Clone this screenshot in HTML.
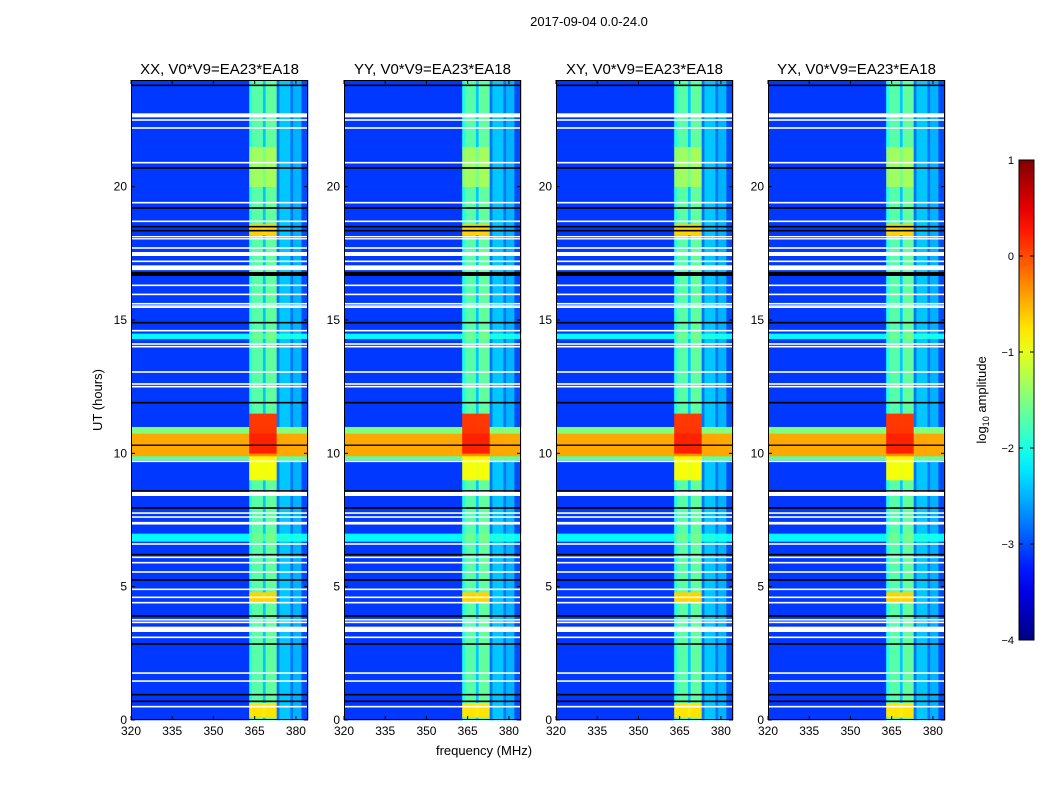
<!DOCTYPE html>
<html><head><meta charset="utf-8"><style>
body{margin:0;background:#fff;width:1050px;height:800px;overflow:hidden;font-family:"Liberation Sans",sans-serif}
svg text{font-family:"Liberation Sans",sans-serif}
</style></head><body>
<svg id="chart" width="1050" height="800" xmlns="http://www.w3.org/2000/svg">
<text x="589" y="26" font-size="13" text-anchor="middle">2017-09-04 0.0-24.0</text>
<text x="484" y="755" font-size="13" text-anchor="middle">frequency (MHz)</text>
<text x="0" y="0" font-size="13" text-anchor="middle" transform="translate(102,400) rotate(-90)">UT (hours)</text>
<g id="panels"></g>
<g id="cbar"></g>
</svg>
<script>
const panelTitles=["XX, V0*V9=EA23*EA18","YY, V0*V9=EA23*EA18","XY, V0*V9=EA23*EA18","YX, V0*V9=EA23*EA18"];
const freqLo=[320,363,364,368,369,373,374,378,379,382];
const freqHi=[363,364,368,369,373,374,378,379,382,384.4];
const freqLevel=[-3.1,-2.0,-1.7,-2.4,-1.65,-2.8,-2.4,-2.8,-2.5,-3.0];
const rowLo=[10.3,9.9,10.75,9.75,6.7,14.3];
const rowHi=[10.75,10.3,11.0,9.9,7.0,14.5];
const rowLevel=[-0.45,-0.45,-1.5,-1.7,-2.2,-2.2];
const bandLo=[10.0,9.0,4.4,18.2,0.1,20.0];
const bandHi=[11.5,10.0,4.8,18.6,0.65,21.5];
const bandLevel=[0.1,-1.0,-0.7,-0.7,-0.8,-1.6];
const whiteLo=[22.6,22.47,22.17,20.87,19.37,18.67,18.02,18.1,17.67,17.4,17.17,16.87,16.27,15.93,15.58,15.5,15.45,14.57,14.07,13.97,13.02,12.57,12.47,9.67,8.4,7.73,7.58,7.33,6.57,6.07,5.87,5.52,4.87,4.57,4.37,3.73,3.63,3.3,3.07,1.73,1.43,0.47];
const whiteHi=[22.75,22.53,22.23,20.93,19.43,18.73,18.07,18.15,17.73,17.55,17.23,17.05,16.33,15.99,15.64,15.55,15.5,14.63,14.13,14.03,13.08,12.63,12.53,9.73,8.55,7.79,7.64,7.43,6.63,6.13,5.93,5.58,4.93,4.63,4.43,3.79,3.69,3.5,3.13,1.79,1.49,0.53];
const blackLo=[23.77,20.67,19.17,18.47,18.32,16.65,14.87,11.87,10.28,8.57,7.92,6.17,5.22,3.87,2.82,0.92,0.67];
const blackHi=[23.83,20.73,19.23,18.53,18.38,16.8,14.93,11.93,10.33,8.62,7.98,6.23,5.28,3.93,2.88,0.98,0.73];
const yTicks=[0,5,10,15,20];
const xTicks=[320,335,350,365,380];
const cbTicks=[1,0,-1,-2,-3,-4];
const cbLabels=["1","0","\u22121","\u22122","\u22123","\u22124"];

const NS="http://www.w3.org/2000/svg";
function mk(tag,attrs,parent){const e=document.createElementNS(NS,tag);for(const k in attrs)e.setAttribute(k,attrs[k]);parent.appendChild(e);return e;}
function jet(v){
  const c=x=>Math.max(0,Math.min(1,x));
  const r=c(1.5-Math.abs(4*v-3)),g=c(1.5-Math.abs(4*v-2)),b=c(1.5-Math.abs(4*v-1));
  return `rgb(${Math.round(r*255)},${Math.round(g*255)},${Math.round(b*255)})`;
}
const vmin=-4,vmax=1;
const panelX=[131,344,556,768],PW=177,PT=80,PB=720;
const fMin=320,fMax=384.4,tMin=0,tMax=24;
function xs(p,f){return panelX[p]+(f-fMin)/(fMax-fMin)*PW;}
function ys(t){return PB-(t-tMin)/(tMax-tMin)*(PB-PT);}
function levelAt(fi,t){
  let a=Math.pow(10,freqLevel[fi]);
  for(let i=0;i<rowLo.length;i++)if(t>=rowLo[i]&&t<rowHi[i])a+=Math.pow(10,rowLevel[i]);
  if(freqLo[fi]>=363&&freqHi[fi]<=373)for(let i=0;i<bandLo.length;i++)if(t>=bandLo[i]&&t<bandHi[i])a+=Math.pow(10,bandLevel[i]);
  return Math.log10(a);
}
let bps=[tMin,tMax];
[rowLo,rowHi,bandLo,bandHi].forEach(a=>a.forEach(v=>bps.push(v)));
bps=[...new Set(bps)].sort((a,b)=>a-b);
const pg=document.getElementById('panels');
for(let p=0;p<4;p++){
  const g=mk('g',{},pg);
  
  
  for(let k=0;k<bps.length-1;k++){
    const t0=bps[k],t1=bps[k+1],tm=(t0+t1)/2;
    for(let fi=0;fi<freqLo.length;fi++){
      const v=levelAt(fi,tm);
      const r=mk('rect',{x:xs(p,freqLo[fi]),y:ys(t1),width:xs(p,freqHi[fi])-xs(p,freqLo[fi])+0.3,height:ys(t0)-ys(t1)+0.3,fill:jet((v-vmin)/(vmax-vmin))},g);
      
      
    }
  }
  for(let i=0;i<whiteLo.length;i++){
    const r=mk('rect',{x:panelX[p],y:ys(whiteHi[i]),width:PW,height:Math.max(1,ys(whiteLo[i])-ys(whiteHi[i])),fill:'#fff'},g);
    
    
  }
  for(let i=0;i<blackLo.length;i++){
    const r=mk('rect',{x:panelX[p],y:ys(blackHi[i]),width:PW,height:Math.max(1,ys(blackLo[i])-ys(blackHi[i])),fill:'#000'},g);
    
    
  }
  const fr=mk('rect',{x:panelX[p]+0.5,y:PT+0.5,width:PW-1,height:PB-PT-1,fill:'none',stroke:'#000','stroke-width':1},g);
  
  
  const tt=mk('text',{x:panelX[p]+PW/2,y:74,'font-size':15,'text-anchor':'middle'},g);
  tt.textContent=panelTitles[p];
  
  
  yTicks.forEach(v=>{
    const y=ys(v);
    mk('line',{x1:panelX[p],x2:panelX[p]+4,y1:y,y2:y,stroke:'#000'},g);
    mk('line',{x1:panelX[p]+PW-4,x2:panelX[p]+PW,y1:y,y2:y,stroke:'#000'},g);
    const t=mk('text',{x:panelX[p]-4,y:y+4,'font-size':12,'text-anchor':'end'},g);
    t.textContent=v;
    
    
  });
  xTicks.forEach(v=>{
    const x=xs(p,v);
    mk('line',{x1:x,x2:x,y1:PB,y2:PB-4,stroke:'#000'},g);
    mk('line',{x1:x,x2:x,y1:PT,y2:PT+4,stroke:'#000'},g);
    const t=mk('text',{x:x,y:PB+15,'font-size':12,'text-anchor':'middle'},g);
    t.textContent=v;
    
    
  });
}
const cb=document.getElementById('cbar');
const cbX=1019,cbW=15,cbT=160,cbB=640;
function cy(v){return cbB-(v-vmin)/(vmax-vmin)*(cbB-cbT);}
const defs=mk('defs',{},cb);
const lg=mk('linearGradient',{id:'jetg',x1:0,y1:1,x2:0,y2:0},defs);
for(let i=0;i<=20;i++){mk('stop',{offset:i/20,'stop-color':jet(i/20)},lg);}
const cr=mk('rect',{x:cbX,y:cbT,width:cbW,height:cbB-cbT,fill:'url(#jetg)',stroke:'#000','stroke-width':1},cb);


cbTicks.forEach((v,i)=>{
  const y=cy(v);
  mk('line',{x1:cbX,x2:cbX+4,y1:y,y2:y,stroke:'#000'},cb);
  mk('line',{x1:cbX+cbW-4,x2:cbX+cbW,y1:y,y2:y,stroke:'#000'},cb);
  const t=mk('text',{x:cbX-5,y:y+4,'font-size':11,'text-anchor':'end'},cb);
  t.textContent=cbLabels[i];
  
  
});
const cl=mk('text',{transform:'translate(986,400) rotate(-90)','font-size':13,'text-anchor':'middle'},cb);
cl.innerHTML='log<tspan font-size="9" dy="3">10</tspan><tspan dy="-3"> amplitude</tspan>';


</script>
</body></html>
